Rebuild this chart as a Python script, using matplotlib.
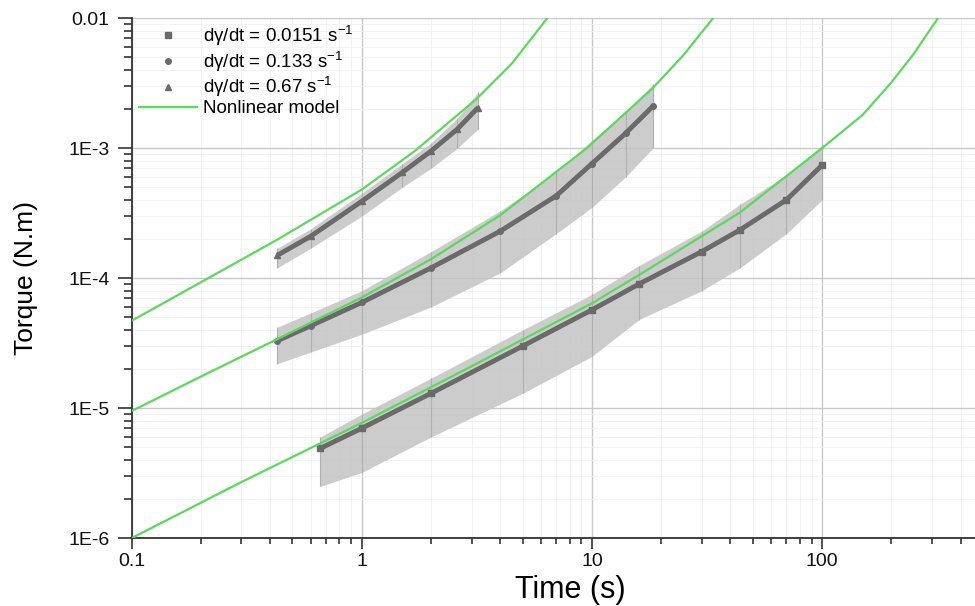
import numpy as np
import matplotlib.pyplot as plt

plt.rcParams['font.family'] = ['Liberation Sans', 'DejaVu Sans']
plt.rcParams['mathtext.fontset'] = 'custom'
plt.rcParams['mathtext.rm'] = 'Liberation Sans'

# measured data, dγ/dt = 0.0151 s^-1
t1 = [0.66, 1, 2, 5, 10, 16, 30, 44, 70, 100]
tq1 = [4.9e-6, 7.0e-6, 1.3e-5, 3.0e-5, 5.7e-5, 9.0e-5, 1.6e-4, 2.35e-4, 4.0e-4, 7.4e-4]
lo1 = [2.5e-6, 3.2e-6, 6e-6, 1.3e-5, 2.5e-5, 4.8e-5, 8e-5, 1.2e-4, 2.2e-4, 4e-4]
hi1 = [6e-6, 9e-6, 1.7e-5, 4e-5, 7.5e-5, 1.25e-4, 2.3e-4, 3.7e-4, 6.2e-4, 1.05e-3]

# dγ/dt = 0.133 s^-1
t2 = [0.43, 0.6, 1, 2, 4, 7, 10, 14, 18.4]
tq2 = [3.3e-5, 4.3e-5, 6.5e-5, 1.2e-4, 2.3e-4, 4.3e-4, 7.6e-4, 1.3e-3, 2.1e-3]
lo2 = [2.2e-5, 2.7e-5, 3.7e-5, 6e-5, 1.1e-4, 2.2e-4, 3.5e-4, 6e-4, 1.0e-3]
hi2 = [4.2e-5, 5.4e-5, 8e-5, 1.6e-4, 3.3e-4, 6.5e-4, 1.15e-3, 1.9e-3, 3.1e-3]

# dγ/dt = 0.67 s^-1
t3 = [0.43, 0.6, 1, 1.5, 2, 2.6, 3.2]
tq3 = [1.5e-4, 2.1e-4, 3.9e-4, 6.5e-4, 9.5e-4, 1.4e-3, 2.05e-3]
lo3 = [1.2e-4, 1.7e-4, 3e-4, 5e-4, 7e-4, 1.0e-3, 1.4e-3]
hi3 = [1.7e-4, 2.4e-4, 4.5e-4, 7.6e-4, 1.1e-3, 1.7e-3, 2.7e-3]

# nonlinear model curves
m1_t = [0.1, 0.3, 1, 3, 10, 16.2, 44, 100, 150, 200, 250, 319]
m1_y = [1.0e-6, 2.7e-6, 7.7e-6, 2.1e-5, 6.4e-5, 1.07e-4, 3.2e-4, 1.0e-3, 1.8e-3, 3.2e-3, 5.3e-3, 1e-2]
m2_t = [0.1, 0.2, 0.43, 1, 2, 4, 9.5, 18.4, 25, 33.6]
m2_y = [9.5e-6, 1.75e-5, 3.4e-5, 7.1e-5, 1.4e-4, 3.05e-4, 1.0e-3, 2.9e-3, 5.2e-3, 1e-2]
m3_t = [0.1, 0.2, 0.43, 1, 1.7, 3.16, 4.5, 6.4]
m3_y = [4.7e-5, 9.3e-5, 1.98e-4, 4.8e-4, 9.5e-4, 2.4e-3, 4.5e-3, 1e-2]

labels = ['d\u03b3/dt = 0.0151 s$^{-1}$', 'd\u03b3/dt = 0.133 s$^{-1}$', 'd\u03b3/dt = 0.67 s$^{-1}$']

fig = plt.figure(figsize=(9.75, 6.06), dpi=100)
ax = fig.add_axes([0.135, 0.112, 0.865, 0.858])

band = '#c4c4c4'
dark = '#6a6a6a'
green = '#58dc58'

series = [(t1, tq1, lo1, hi1, 's'), (t2, tq2, lo2, hi2, 'o'), (t3, tq3, lo3, hi3, '^')]
handles = []
for (t, y, lo, hi, mk), lab in zip(series, labels):
    ax.fill_between(t, lo, hi, color=band, alpha=0.85, lw=0, zorder=1)
    ax.vlines(t, lo, hi, color='#b0b0b0', lw=0.8, zorder=1)
    ax.plot(t, y, color=dark, lw=3.5, zorder=2, solid_capstyle='butt')
    h, = ax.plot(t, y, ls='none', marker=mk, ms=4, color=dark, zorder=2, label=lab)
    handles.append(h)

for mt, my in [(m1_t, m1_y), (m2_t, m2_y), (m3_t, m3_y)]:
    ln, = ax.plot(mt, my, color=green, lw=1.6, zorder=3, label='Nonlinear model')
handles.append(ln)

ax.set_xscale('log')
ax.set_yscale('log')
ax.set_xlim(0.1, 462)
ax.set_ylim(1e-6, 1e-2)

ax.set_xticks([0.1, 1, 10, 100])
ax.set_xticklabels(['0.1', '1', '10', '100'])
ax.set_yticks([1e-6, 1e-5, 1e-4, 1e-3, 1e-2])
ax.set_yticklabels(['1E-6', '1E-5', '1E-4', '1E-3', '0.01'])

ax.grid(True, which='major', color='#c8c8c8', lw=1.0)
ax.grid(True, which='minor', color='#f0f0f0', lw=0.6)
ax.set_axisbelow(True)

for s in ['top', 'right']:
    ax.spines[s].set_visible(False)
for s in ['left', 'bottom']:
    ax.spines[s].set_linewidth(1.3)
    ax.spines[s].set_color('#333333')

ax.tick_params(which='both', direction='out', width=1.2, colors='#333333', labelcolor='#111111', labelsize=14)
ax.tick_params(axis='y', which='major', length=10, pad=6)
ax.tick_params(axis='y', which='minor', length=5.5)
ax.tick_params(axis='x', which='major', length=8, pad=3)
ax.tick_params(axis='x', which='minor', length=4.5)

ax.set_xlabel('Time (s)', fontsize=22)
ax.set_ylabel('Torque (N.m)', fontsize=19)
ax.xaxis.set_label_coords(0.52, -0.071)
ax.yaxis.set_label_coords(-0.111, 0.5)

ax.legend(handles=handles, loc='upper left', bbox_to_anchor=(0.0, 1.005), frameon=False,
          fontsize=13.5, handlelength=3.1, handletextpad=0.3, labelspacing=0.05,
          borderaxespad=0.2, borderpad=0.2)

fig.savefig('out.png', dpi=100)
